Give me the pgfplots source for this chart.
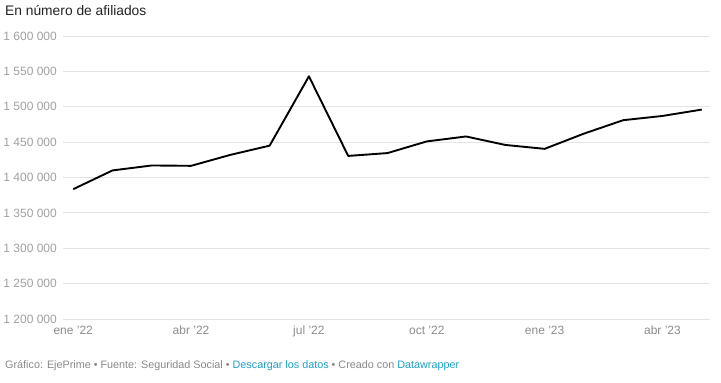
\documentclass[border=0pt]{standalone}
\usepackage{pgfplots}
\pgfplotsset{compat=1.18}
\usepackage{fontspec}
\setmainfont{Liberation Sans}
\definecolor{tickgray}{HTML}{A0A0A0}
\definecolor{xgray}{HTML}{8C8C8C}
\definecolor{footgray}{HTML}{888888}
\definecolor{linkblue}{HTML}{1D9FC9}
\definecolor{gridgray}{HTML}{E3E3E3}
\definecolor{titleblack}{HTML}{222222}
\begin{document}
\begin{tikzpicture}[x=1pt,y=1pt]
\useasboundingbox (0,0) rectangle (721,383);
\begin{axis}[
  at={(63pt,64pt)}, anchor=south west,
  scale only axis, width=647pt, height=283pt,
  xmin=-0.26, xmax=16.21,
  ymin=1200000, ymax=1600000,
  axis line style={draw=none},
  tick style={draw=none},
  ymajorgrids, major grid style={color=gridgray, line width=0.8pt},
  ytick={1200000,1250000,1300000,1350000,1400000,1450000,1500000,1550000,1600000},
  yticklabels={1 200 000,1 250 000,1 300 000,1 350 000,1 400 000,1 450 000,1 500 000,1 550 000,1 600 000},
  xtick={0,3,6,9,12,15},
  xticklabels={ene ’22,abr ’22,jul ’22,oct ’22,ene ’23,abr ’23},
  yticklabel style={anchor=east, inner sep=0pt, xshift=-6pt, text=tickgray, font=\fontsize{12}{14}\selectfont},
  xticklabel style={anchor=north, inner sep=0pt, yshift=-7pt, text=xgray, font=\fontsize{12}{14}\selectfont},
  scaled y ticks=false,
  clip=false,
]
\addplot[black, line width=1.9pt, line join=round, mark=none] coordinates {
(0,1383500) (1,1410000) (2,1417000) (3,1416500) (4,1432000) (5,1445000)
(6,1543000) (7,1430500) (8,1434500) (9,1451000) (10,1458000) (11,1446000)
(12,1440500) (13,1462000) (14,1481000) (15,1487000) (16,1496000)
};
\end{axis}
\node[anchor=base west, inner sep=0pt, text=titleblack, font=\fontsize{13.8}{16}\selectfont] at (5,367.5) {En número de afiliados};
\node[anchor=base west, inner sep=0pt, text=footgray, font=\fontsize{10.8}{13}\selectfont] at (5,14) {Gráfico: EjePrime • Fuente: Seguridad Social • \textcolor{linkblue}{Descargar los datos} • Creado con \textcolor{linkblue}{Datawrapper}};
\end{tikzpicture}
\end{document}
